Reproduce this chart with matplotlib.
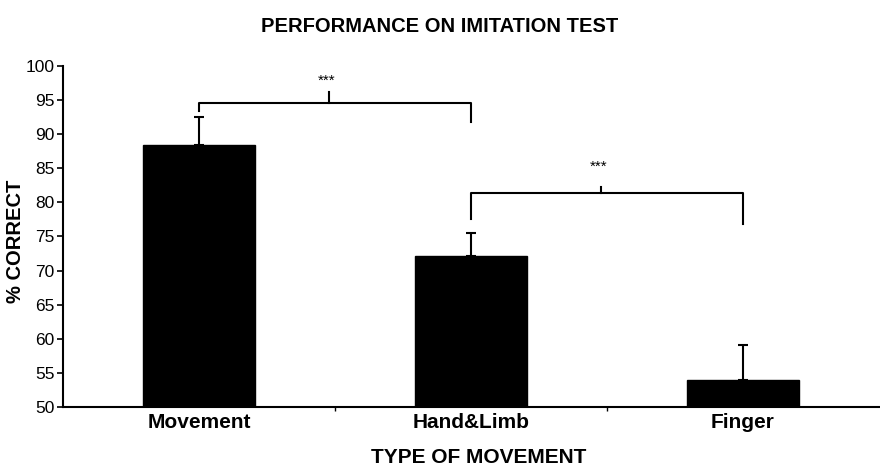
import matplotlib.pyplot as plt

plt.rcParams['font.family'] = ['Liberation Sans', 'DejaVu Sans']

# data
categories = ["Movement", "Hand&Limb", "Finger"]
means = [88.4, 72.2, 53.9]
errors = [4.1, 3.3, 5.2]
# significance brackets: (left cat, right cat, bar height, left leg end, right leg end, tick x, tick top, label y)
brackets = [
    (0, 1, 94.6, 93.4, 91.8, 0.48, 96.2, 97.8),
    (1, 2, 81.3, 77.6, 76.8, 1.48, 82.2, 85.2),
]
sig_label = "***"

fig = plt.figure(figsize=(8.8, 4.67), dpi=100)
ax = fig.add_axes([0.0716, 0.1285, 0.927, 0.7305])

x = range(len(categories))
ax.bar(x, means, width=0.41, color="black", edgecolor="black")
ax.errorbar(x, means, yerr=[[0] * len(errors), errors], fmt="none",
            ecolor="black", elinewidth=1.5, capsize=3.5, capthick=1.5)

for x0, x1, h, l0, l1, tx, ttop, ly in brackets:
    ax.plot([x0, x0, x1, x1], [l0, h, h, l1], color="black", lw=1.5)
    ax.plot([tx, tx], [h, ttop], color="black", lw=1.5)
    ax.text(tx - 0.01, ly, sig_label, ha="center", va="center", fontsize=11)

ax.set_xlim(-0.5, 2.5)
ax.set_ylim(50, 100)
ax.set_yticks(range(50, 101, 5))
ax.set_xticks(list(x))
ax.set_xticklabels(categories, fontweight="bold", fontsize=15)
ax.set_xticks([0.5, 1.5], minor=True)
ax.tick_params(axis="x", which="major", length=0, pad=4)
ax.tick_params(axis="x", which="minor", length=3, width=1)
ax.tick_params(axis="y", labelsize=12.5, length=4, width=1.2, pad=2)

for s in ["top", "right"]:
    ax.spines[s].set_visible(False)
ax.spines["left"].set_linewidth(1.5)
ax.spines["bottom"].set_linewidth(1.5)

ax.set_ylabel("% CORRECT", fontweight="bold", fontsize=14.5)
ax.yaxis.set_label_coords(-0.047, 0.487)
ax.set_xlabel("TYPE OF MOVEMENT", fontweight="bold", fontsize=15)
ax.xaxis.set_label_coords(0.509, -0.12)
fig.text(0.5, 0.943, "PERFORMANCE ON IMITATION TEST", fontweight="bold",
         fontsize=14.5, ha="center", va="center")

fig.savefig("out.png", dpi=100)
